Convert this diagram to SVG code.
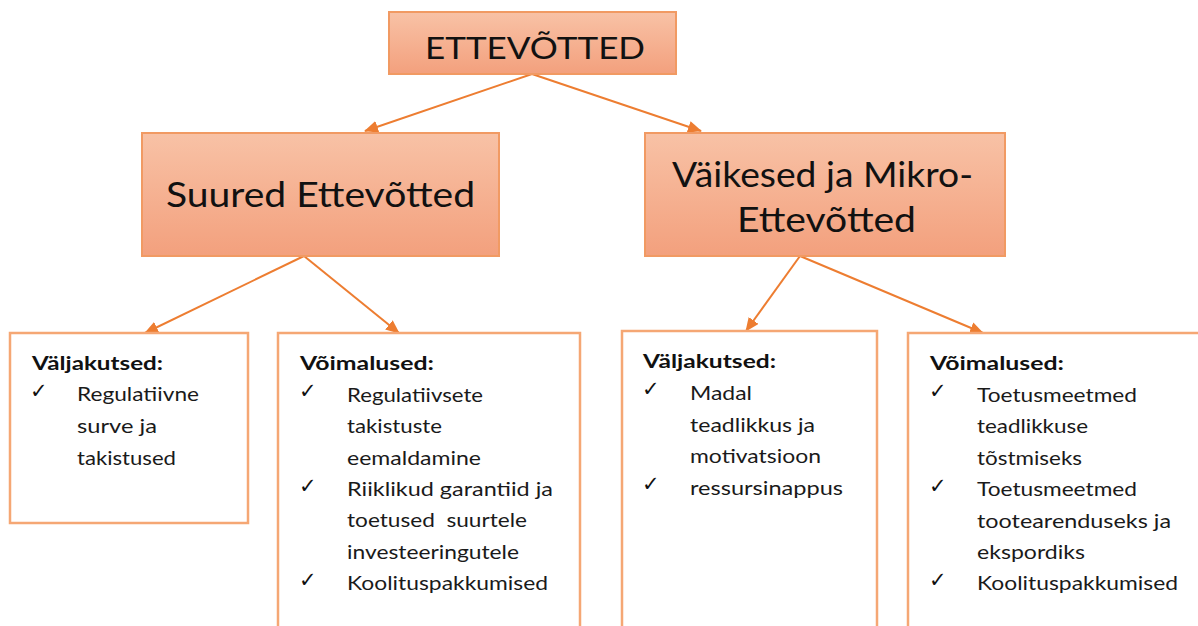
<svg xmlns="http://www.w3.org/2000/svg" width="1198" height="626" viewBox="0 0 1198 626">
<defs>
<linearGradient id="g" x1="0" y1="0" x2="0" y2="1">
<stop offset="0" stop-color="#F8C2A6"/>
<stop offset="1" stop-color="#F3A07D"/>
</linearGradient>
<marker id="ah" markerWidth="14" markerHeight="12" refX="13" refY="6" orient="auto" markerUnits="userSpaceOnUse">
<path d="M0,0 L14,6 L0,12 Z" fill="#ED7D31"/>
</marker>
<style>
.top{fill:url(#g);stroke:#F19A63;stroke-width:2}
.box{fill:#fff;stroke:#F5A774;stroke-width:2.5}
.h{font-family:Lato,"Open Sans",sans-serif;fill:#111}
.t{font-family:Lato,"Open Sans",sans-serif;font-size:19px;fill:#1a1a1a}
.b{font-family:Lato,"Open Sans",sans-serif;font-size:19px;font-weight:bold;fill:#111}
.c{font-family:"DejaVu Sans",sans-serif;font-size:21px;fill:#111}
.con{stroke:#ED7D31;stroke-width:2;fill:none;marker-end:url(#ah)}
</style>
</defs>
<g id="connectors">
<line class="con" x1="532" y1="74" x2="365" y2="131"/>
<line class="con" x1="532" y1="74" x2="701" y2="131"/>
<line class="con" x1="304" y1="256" x2="145" y2="333"/>
<line class="con" x1="304" y1="256" x2="399" y2="333"/>
<line class="con" x1="800" y1="256" x2="746" y2="331"/>
<line class="con" x1="800" y1="256" x2="983" y2="333"/>
</g>
<g id="root">
<rect class="top" x="389" y="12" width="287" height="62"/>
<text class="h" x="425" y="59" font-size="30" textLength="220" lengthAdjust="spacingAndGlyphs">ETTEVÕTTED</text>
</g>
<g id="suured">
<rect class="top" x="142" y="133" width="357" height="123"/>
<text class="h" x="166" y="207" font-size="34" textLength="309" lengthAdjust="spacingAndGlyphs">Suured Ettevõtted</text>
</g>
<g id="vaikesed">
<rect class="top" x="645" y="133" width="360" height="123"/>
<text class="h" x="672" y="187" font-size="34" textLength="301" lengthAdjust="spacingAndGlyphs">Väikesed ja Mikro-</text>
<text class="h" x="737" y="232" font-size="34" textLength="179" lengthAdjust="spacingAndGlyphs">Ettevõtted</text>
</g>
<g id="suured-valjakutsed">
<rect class="box" x="10" y="333" width="238" height="190"/>
<text class="b" x="32" y="370" textLength="131" lengthAdjust="spacingAndGlyphs">Väljakutsed:</text>
<text class="c" x="30" y="398">✓</text>
<text class="t" x="77" y="401" textLength="122" lengthAdjust="spacingAndGlyphs">Regulatiivne</text>
<text class="t" x="77" y="433" textLength="80" lengthAdjust="spacingAndGlyphs">surve ja</text>
<text class="t" x="77" y="465" textLength="99" lengthAdjust="spacingAndGlyphs">takistused</text>
</g>
<g id="suured-voimalused">
<rect class="box" x="278" y="333" width="302" height="400"/>
<text class="b" x="300" y="370" textLength="134" lengthAdjust="spacingAndGlyphs">Võimalused:</text>
<text class="c" x="299" y="398">✓</text>
<text class="t" x="347" y="402" textLength="136" lengthAdjust="spacingAndGlyphs">Regulatiivsete</text>
<text class="t" x="347" y="433" textLength="95" lengthAdjust="spacingAndGlyphs">takistuste</text>
<text class="t" x="347" y="465" textLength="134" lengthAdjust="spacingAndGlyphs">eemaldamine</text>
<text class="c" x="299" y="493">✓</text>
<text class="t" x="347" y="496" textLength="206" lengthAdjust="spacingAndGlyphs">Riiklikud garantiid ja</text>
<text class="t" x="347" y="527" textLength="180" lengthAdjust="spacingAndGlyphs" xml:space="preserve">toetused  suurtele</text>
<text class="t" x="347" y="559" textLength="172" lengthAdjust="spacingAndGlyphs">investeeringutele</text>
<text class="c" x="299" y="587">✓</text>
<text class="t" x="347" y="590" textLength="201" lengthAdjust="spacingAndGlyphs">Koolituspakkumised</text>
</g>
<g id="vaikesed-valjakutsed">
<rect class="box" x="622" y="331" width="255" height="400"/>
<text class="b" x="643" y="368" textLength="133" lengthAdjust="spacingAndGlyphs">Väljakutsed:</text>
<text class="c" x="642" y="396">✓</text>
<text class="t" x="690" y="400" textLength="62" lengthAdjust="spacingAndGlyphs">Madal</text>
<text class="t" x="690" y="432" textLength="125" lengthAdjust="spacingAndGlyphs">teadlikkus ja</text>
<text class="t" x="690" y="463" textLength="131" lengthAdjust="spacingAndGlyphs">motivatsioon</text>
<text class="c" x="642" y="491">✓</text>
<text class="t" x="690" y="495" textLength="153" lengthAdjust="spacingAndGlyphs">ressursinappus</text>
</g>
<g id="vaikesed-voimalused">
<rect class="box" x="908" y="333" width="300" height="400"/>
<text class="b" x="930" y="370" textLength="134" lengthAdjust="spacingAndGlyphs">Võimalused:</text>
<text class="c" x="929" y="398">✓</text>
<text class="t" x="977" y="402" textLength="160" lengthAdjust="spacingAndGlyphs">Toetusmeetmed</text>
<text class="t" x="977" y="433" textLength="111" lengthAdjust="spacingAndGlyphs">teadlikkuse</text>
<text class="t" x="977" y="465" textLength="105" lengthAdjust="spacingAndGlyphs">tõstmiseks</text>
<text class="c" x="929" y="493">✓</text>
<text class="t" x="977" y="496" textLength="160" lengthAdjust="spacingAndGlyphs">Toetusmeetmed</text>
<text class="t" x="977" y="528" textLength="194" lengthAdjust="spacingAndGlyphs">tootearenduseks ja</text>
<text class="t" x="977" y="559" textLength="108" lengthAdjust="spacingAndGlyphs">ekspordiks</text>
<text class="c" x="929" y="587">✓</text>
<text class="t" x="977" y="590" textLength="201" lengthAdjust="spacingAndGlyphs">Koolituspakkumised</text>
</g>
</svg>
